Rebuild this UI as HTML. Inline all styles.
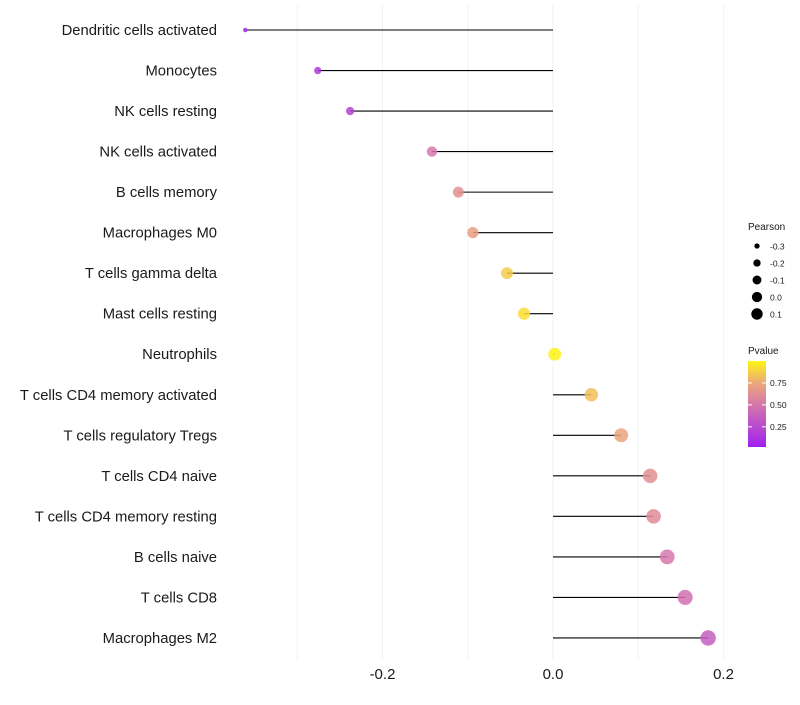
<!DOCTYPE html>
<html><head><meta charset="utf-8"><style>
body{margin:0;background:#fff;font-family:"Liberation Sans",sans-serif}
</style></head><body>
<svg id="c" width="800" height="700"></svg>
<script>
const categories=["Dendritic cells activated","Monocytes","NK cells resting","NK cells activated","B cells memory","Macrophages M0","T cells gamma delta","Mast cells resting","Neutrophils","T cells CD4 memory activated","T cells regulatory  Tregs ","T cells CD4 naive","T cells CD4 memory resting","B cells naive","T cells CD8","Macrophages M2"];
const pearson=[-0.361,-0.276,-0.238,-0.142,-0.111,-0.094,-0.054,-0.034,0.002,0.045,0.080,0.114,0.118,0.134,0.155,0.182];
const pvalue=[0.05,0.15,0.2,0.5,0.62,0.7,0.86,0.92,0.99,0.82,0.72,0.62,0.6,0.5,0.45,0.35];
const xTicks=[-0.2,0.0,0.2];
const gridVals=[-0.3,-0.2,-0.1,0,0.1,0.2];
const sizeLegend=[-0.3,-0.2,-0.1,0.0,0.1];
const pTicks=[0.25,0.5,0.75];
const NS="http://www.w3.org/2000/svg",svg=document.getElementById('c');
function mk(t,a,p){const e=document.createElementNS(NS,t);for(const k in a)e.setAttribute(k,a[k]);(p||svg).appendChild(e);return e;}
const x=v=>553+v*852.5;
const y=i=>30+i*40.53;
const r=v=>Math.sqrt(Math.max(2.25,41+100*v));
const stops=[[0,[160,32,240]],[0.5,[214,120,170]],[0.75,[236,170,120]],[1,[255,245,20]]];
function col(p){let i=0;while(i<stops.length-2&&p>stops[i+1][0])i++;const a=stops[i],b=stops[i+1];const t=Math.min(1,Math.max(0,(p-a[0])/(b[0]-a[0])));const c=a[1].map((v,k)=>Math.round(v+(b[1][k]-v)*t));return `rgb(${c})`;}
gridVals.forEach(v=>{const g=mk('line',{x1:x(v),x2:x(v),y1:5,y2:660,stroke:'#f2f2f2','stroke-width':1});

});
xTicks.forEach(v=>{const t=mk('text',{x:x(v),y:679,'text-anchor':'middle','font-size':15,fill:'#1a1a1a'});t.textContent=v.toFixed(1);

});
categories.forEach((c,i)=>{
const t=mk('text',{x:217,y:y(i)+5,'text-anchor':'end','font-size':14.8,fill:'#1a1a1a'});t.textContent=c;


const l=mk('line',{x1:x(0),x2:x(pearson[i]),y1:y(i),y2:y(i),stroke:'#000','stroke-width':1.1});


const d=mk('circle',{cx:x(pearson[i]),cy:y(i),r:r(pearson[i]),fill:col(pvalue[i]),opacity:0.85});


});
let t=mk('text',{x:748,y:230,'font-size':10,fill:'#1a1a1a'});t.textContent='Pearson';


sizeLegend.forEach((v,i)=>{const cy=246+i*17;
const c=mk('circle',{cx:757,cy:cy,r:r(v)*0.8,fill:'#000'});


const s=mk('text',{x:770,y:cy+3.5,'font-size':8.5,fill:'#1a1a1a'});s.textContent=v.toFixed(1);

});
t=mk('text',{x:748,y:354,'font-size':10,fill:'#1a1a1a'});t.textContent='Pvalue';


const defs=mk('defs',{});const lg=mk('linearGradient',{id:'g',x1:0,y1:1,x2:0,y2:0},defs);
stops.forEach(s=>mk('stop',{offset:s[0],'stop-color':col(s[0])},lg));
const bar=mk('rect',{x:748,y:361,width:18,height:86,fill:'url(#g)'});


const py=p=>447-(p-0.02)/0.98*86;
pTicks.forEach(p=>{mk('line',{x1:748,x2:752,y1:py(p),y2:py(p),stroke:'#fff'});mk('line',{x1:762,x2:766,y1:py(p),y2:py(p),stroke:'#fff'});
const s=mk('text',{x:770,y:py(p)+3,'font-size':8.5,fill:'#1a1a1a'});s.textContent=p.toFixed(2);

});
</script>
</body></html>
